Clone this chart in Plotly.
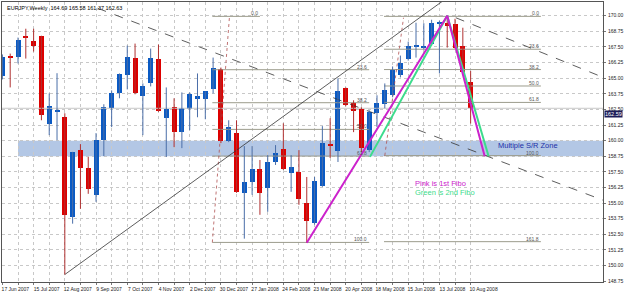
import plotly.graph_objects as go
import pandas as pd

# ---------------- data ----------------
start_date = "2007-06-17"
opens  = [165.20,166.75,166.73,168.30,167.95,168.35,161.32,162.35,161.87,153.90,
          159.24,157.81,155.66,160.04,162.59,163.78,165.22,166.65,163.55,164.58,
          166.57,161.79,162.67,160.68,162.51,163.31,163.31,164.10,165.70,159.96,
          160.60,155.82,156.69,157.73,156.22,158.29,159.32,157.41,157.49,155.02,
          153.43,156.37,159.72,159.16,164.18,162.99,162.51,159.24,162.19,162.91,
          163.63,165.22,166.57,167.50,167.48,167.77,169.36,169.40,169.36,167.61,
          164.69]
highs  = [166.90,166.97,168.25,168.96,168.96,168.40,163.78,165.40,162.19,159.10,
          159.72,158.69,160.60,162.91,164.02,165.38,167.61,167.77,164.58,167.37,
          167.69,164.26,163.39,163.86,163.86,165.38,163.94,166.65,165.85,161.63,
          161.63,159.56,159.56,158.45,158.84,159.64,161.39,158.84,159.24,157.09,
          157.09,161.16,161.79,164.98,164.26,163.23,162.67,162.43,163.63,164.58,
          165.94,166.81,167.93,169.44,169.40,169.68,169.60,170.00,169.76,169.04,
          165.58]
lows   = [164.90,164.26,166.18,166.57,167.13,161.63,160.44,160.04,149.28,153.35,
          154.54,155.74,155.10,158.76,161.08,163.39,164.10,163.71,160.44,164.34,
          162.30,158.69,159.48,159.40,160.84,161.87,161.71,163.78,159.80,159.88,
          155.82,152.15,155.66,154.06,154.30,158.05,157.65,155.90,154.86,151.83,
          153.27,156.30,158.61,158.29,162.75,160.68,159.08,159.08,161.08,162.59,
          163.47,165.06,166.41,166.65,167.30,167.61,165.38,167.45,167.37,165.38,
          161.37]
closes = [166.70,166.65,168.09,168.25,167.61,162.03,162.75,162.40,154.06,159.08,
          157.81,156.14,160.04,162.67,163.78,165.30,166.73,163.78,164.34,166.65,
          162.35,162.51,160.68,162.59,163.71,163.55,163.94,165.78,160.00,161.08,
          155.90,156.69,157.73,155.82,158.29,159.00,157.73,157.89,155.34,153.59,
          156.77,159.80,159.56,163.94,162.83,162.35,159.40,162.27,162.99,164.02,
          165.62,166.25,167.61,167.58,167.55,169.44,169.42,169.20,167.45,165.46,
          162.63]
last_price = 162.59
title_text = "EURJPY,Weekly  164.69 165.58 161.37 162.63"

# fibonacci 1 (pink) and 2 (green)
fib1_high, fib1_low = 169.95, 151.85
fib2_high, fib2_low = 169.95, 158.80
fib1_levels_shown = [0.0, 23.6, 38.2, 50.0, 61.8, 100.0]
fib2_levels_shown = [0.0, 23.6, 38.2, 50.0, 61.8, 100.0, 161.8]

# swing lines (week index, price)
pink_w = [39, 57, 61.8]
pink_p = [151.83, 170.00, 158.75]
green_w = [47.1, 57, 62.3]
green_p = [158.70, 170.00, 158.75]

# trend / channel lines (week index, price)
trend_w = [8, 48];   trend_p = [149.28, 167.37]
chanA_w = [27.5, 73.8]; chanA_p = [166.97, 155.98]
chanB_w = [58.1, 77.0]; chanB_p = [169.84, 165.06]

zone_low, zone_high = 158.75, 160.00

# ---------------- build ----------------
n = len(opens)
idx = list(range(n))
dates = pd.date_range(start_date, periods=n, freq="7D")

XMIN, XMAX = -0.05, 76.96
YMIN, YMAX = 148.68, 171.10

fig = go.Figure()

def line(xs, ys, color, width=1, dash=None):
    fig.add_trace(go.Scatter(x=xs, y=ys, mode="lines", hoverinfo="skip",
                             line=dict(color=color, width=width, dash=dash),
                             showlegend=False))

LBL = dict(size=5, color="#555555", family="Liberation Sans")

# fib 1
f1x0, f1x1 = 26.9, 47.0
for lv in fib1_levels_shown:
    p = fib1_high - (fib1_high - fib1_low) * lv / 100
    x1 = 33.0 if lv == 0.0 else f1x1
    line([f1x0, x1], [p, p], "#9c9c8c", 1)
    fig.add_annotation(x=x1 - 0.1, y=p, text=f"{lv:.1f}", showarrow=False,
                       xanchor="right", yanchor="bottom", yshift=-1, borderpad=0, font=LBL)
line([26.9, 29.1], [fib1_low, fib1_high], "#b05050", 0.8, "dot")

# fib 2
f2x0, f2x1 = 48.9, 69.0
for lv in fib2_levels_shown:
    p = fib2_high - (fib2_high - fib2_low) * lv / 100
    line([f2x0, f2x1], [p, p], "#9c9c8c", 1)
    fig.add_annotation(x=f2x1 - 0.1, y=p, text=f"{lv:.1f}", showarrow=False,
                       xanchor="right", yanchor="bottom", yshift=-1, borderpad=0, font=LBL)
line([49.0, 51.4], [fib2_low, 169.84], "#b05050", 0.8, "dot")

# bid line
line([XMIN, XMAX], [last_price, last_price], "#c8c8c8", 1)

# trend and channel lines (extended, clipped by axes)
def extend(ws, ps, w0, w1):
    s = (ps[1] - ps[0]) / (ws[1] - ws[0])
    return [w0, w1], [ps[0] + s * (w0 - ws[0]), ps[0] + s * (w1 - ws[0])]

tx, ty = extend(trend_w, trend_p, trend_w[0], 70)
line(tx, ty, "#333333", 0.8)
ax_, ay_ = extend(chanA_w, chanA_p, 12.2, XMAX + 1)
line(ax_, ay_, "#333333", 0.8, "dash")
bx_, by_ = extend(chanB_w, chanB_p, chanB_w[0], XMAX + 1)
line(bx_, by_, "#333333", 0.8, "dash")

# candles: wicks
up = [c >= o for o, c in zip(opens, closes)]
for is_up, col in [(True, "#4a6ea8"), (False, "#b03030")]:
    wx, wy = [], []
    for i in idx:
        if up[i] == is_up:
            wx += [i, i, None]
            wy += [lows[i], highs[i], None]
    line(wx, wy, col, 1)

# candles: bodies
for is_up, col in [(True, "#0a5ac4"), (False, "#dd0000")]:
    bx, bb, bh = [], [], []
    for i in idx:
        if up[i] == is_up:
            lo = min(opens[i], closes[i])
            h = abs(closes[i] - opens[i])
            if h < 0.08:
                lo -= (0.08 - h) / 2
                h = 0.08
            bx.append(i); bb.append(lo); bh.append(h)
    fig.add_trace(go.Bar(x=bx, y=bh, base=bb, width=0.64, marker=dict(color=col, line=dict(width=0)),
                         hoverinfo="skip", showlegend=False))

# swing lines
line(green_w, green_p, "#3ddc8c", 2)
line(pink_w, pink_p, "#cc22cc", 2)

# zone
fig.add_shape(type="rect", xref="x", yref="y", x0=2.0, x1=XMAX + 1, y0=zone_low, y1=zone_high,
              fillcolor="rgba(160,185,222,0.8)", line=dict(width=0), layer="below")

fig.add_annotation(x=63.4, y=(zone_low + zone_high) / 2, yshift=3, text="Multiple S/R Zone", showarrow=False,
                   xanchor="left", borderpad=0, font=dict(size=7.5, color="#2230a8", family="Liberation Sans"))
fig.add_annotation(x=52.8, y=156.57, text="Pink is 1st Fibo", showarrow=False, xanchor="left", borderpad=0,
                   font=dict(size=7.5, color="#cc22cc", family="Liberation Sans"))
fig.add_annotation(x=52.8, y=155.85, text="Green is 2nd Fibo", showarrow=False, xanchor="left", borderpad=0,
                   font=dict(size=7.5, color="#3ddc8c", family="Liberation Sans"))

# title
fig.add_annotation(xref="paper", yref="paper", x=0.005, y=0.995, text=title_text, showarrow=False,
                   xanchor="left", yanchor="top", font=dict(size=5.5, color="#000000", family="Liberation Sans"))

# price box
fig.add_annotation(xref="paper", x=1.0, y=last_price, text=f"{last_price:.2f}", showarrow=False,
                   xanchor="left", xshift=1, yshift=-6, bgcolor="#1c1c58", borderpad=0,
                   font=dict(size=5.5, color="#ffffff", family="Liberation Sans"))

# axes
tickvals_x = list(range(0, n, 2))
ticktext_x = [dates[i].strftime("%-d %b %Y") if i % 4 == 0 else "" for i in tickvals_x]
yt = [148.75 + 1.25 * k for k in range(18)]

fig.update_layout(
    width=625, height=293,
    margin=dict(l=2, r=20, t=1, b=10),
    paper_bgcolor="white", plot_bgcolor="white",
    barmode="overlay", bargap=0,
    showlegend=False,
    xaxis=dict(range=[XMIN, XMAX], tickvals=tickvals_x, ticktext=ticktext_x,
               showgrid=True, gridcolor="#c8c8c8", griddash="dot", gridwidth=1,
               showline=True, linecolor="#555555", linewidth=1, mirror=True,
               ticks="outside", ticklen=2, tickcolor="#777777",
               tickfont=dict(size=5, color="#222222", family="Liberation Sans"),
               ticklabelshift=13, ticklabelstandoff=0, zeroline=False, fixedrange=True),
    yaxis=dict(range=[YMIN, YMAX], side="right", tickvals=yt,
               ticktext=[f"{v:.2f}" for v in yt],
               showgrid=True, gridcolor="#c8c8c8", griddash="dot", gridwidth=1,
               showline=True, linecolor="#555555", linewidth=1, mirror=True,
               ticks="outside", ticklen=2, tickcolor="#777777",
               tickfont=dict(size=5, color="#222222", family="Liberation Sans"),
               ticklabelstandoff=1, zeroline=False, fixedrange=True),
)

fig.write_html("out.html")
